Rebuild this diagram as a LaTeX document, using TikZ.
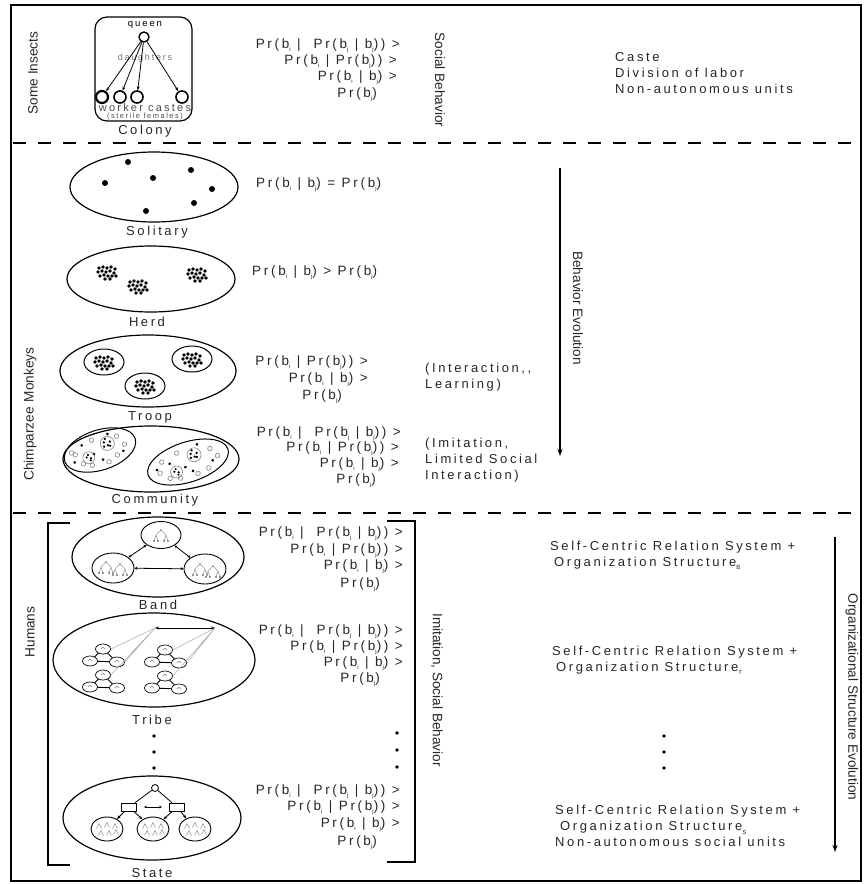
\documentclass[tikz,border=0pt]{standalone}
\usepackage{fontspec}
\setmainfont{Liberation Sans}
\newfontfamily\lsf[LetterSpace=20]{Liberation Sans}
\usetikzlibrary{arrows.meta,shapes.geometric}
\newcommand\bsub[1]{b\raisebox{-0.45ex}{\fontsize{6}{6}\selectfont #1}}
\newcommand\ssub[1]{\raisebox{-0.5ex}{\fontsize{6}{6}\selectfont #1}}
\newcommand\fA{Pr(\bsub{i} |\ \ Pr(\bsub{j} | \bsub{j})) >}
\newcommand\fB{Pr(\bsub{i} | Pr(\bsub{j})) >}
\newcommand\fC{Pr(\bsub{i} | \bsub{j}) >}
\newcommand\fD{Pr(\bsub{j})}
\tikzset{
  clus/.pic={\foreach \a/\b in {-8/-4,-4/-5,0/-4,4/-5,8/-3,-9/0,-5/-1,-1/0,3/-1,7/1,-7/4,-3/3,1/4,5/4,9/4,-2/7,3/7}
     \fill (\a,\b) circle (1.9pt);},
  mtree/.pic={\draw[gray!80, line width=0.5pt] (0,-6) -- (-5,-1) (0,-6) -- (5,-1) (-5,-1) -- (-7,5) (-5,-1) -- (-3,5) (5,-1) -- (3,5) (5,-1) -- (7,5);
     \foreach \a in {-7,-3,3,7} \fill[black!75] (\a,5) circle (0.8pt);
     \fill[gray] (0,-6) circle (0.9pt);},
  mstate/.pic={\foreach \a/\b in {-8/-3,0/-4,8/-3,-6/4,2/4,9/3}
     \draw[gray, line width=0.45pt] (\a-2.5,\b+2.5) -- (\a,\b-2.5) -- (\a+2.5,\b+2.5);},
  mell/.style={ellipse, draw, line width=0.7pt, minimum width=15pt, minimum height=10pt, inner sep=0pt},
  miniband/.pic={
     \node[mell] (-t) at (0,-8) {};
     \node[mell] (-l) at (-13,4) {};
     \node[mell] (-r) at (14,5) {};
     \draw[line width=0.9pt] (-t) -- (-l) (-t) -- (-r) (-l) -- (-r);
     \draw[gray, line width=0.4pt] (-2,-8) -- (0,-10) -- (2,-8) (-15,4) -- (-13,2) -- (-11,4) (12,5) -- (14,3) -- (16,5);}
}
\begin{document}
\begin{tikzpicture}[x=1pt,y=-1pt,
  lbl/.style={font=\lsf\fontsize{13}{16}\selectfont, text=black!85, inner sep=0pt},
  frm/.style={font=\lsf\fontsize{13.5}{16}\selectfont, text=black!85, inner sep=0pt, anchor=east},
  txt/.style={font=\lsf\fontsize{13}{16}\selectfont, text=black!85, inner sep=0pt, align=left, anchor=west},
  rot/.style={font=\fontsize{13.6}{16}\selectfont, text=black!85, inner sep=0pt},
  dashline/.style={line width=1.6pt, dash pattern=on 13pt off 12pt},
  outer/.style={line width=1.2pt},
  inner/.style={line width=1pt},
  arr/.style={line width=1.2pt, -{Stealth[length=7pt,width=5pt]}},
  small/.style={-{Stealth[length=4pt,width=3pt]}, line width=0.8pt},
  sdot/.style={fill=black}
]
\useasboundingbox (0,0) rectangle (866,884);
\draw[line width=1.8pt] (11,5) rectangle (861,881);
\draw[dashline] (13,143) -- (859,143);
\draw[dashline] (13,513) -- (859,513);

% ---------- Some insects ----------
\node[rot, rotate=90] (insects) at (33,73) {Some Insects};
\draw[line width=1.2pt, rounded corners=12pt] (95,17) rectangle (192,121);
\node[font=\lsf\fontsize{9.5}{10}\selectfont, inner sep=0pt] (queenlbl) at (145,25) {queen};
\node[circle, draw, line width=1.4pt, minimum size=10pt, inner sep=0pt] (q) at (144,37) {};
\node[font=\lsf\fontsize{9}{9}\selectfont, text=black!55, inner sep=0pt] (daught) at (145,58) {daughters};
\node[circle, draw, line width=2.2pt, minimum size=12pt, inner sep=0pt] (w1) at (102,97) {};
\node[circle, draw, line width=1.6pt, minimum size=12pt, inner sep=0pt] (w2) at (120,97) {};
\node[circle, draw, line width=1.6pt, minimum size=12pt, inner sep=0pt] (w3) at (137,97) {};
\node[circle, draw, line width=1.6pt, minimum size=12pt, inner sep=0pt] (w4) at (182,97) {};
\foreach \w in {w1,w2,w3,w4} \draw[small] (q) -- (\w);
\node[font=\lsf\fontsize{11}{11}\selectfont, text=black!70, inner sep=0pt] (wc) at (145,108) {worker castes};
\node[font=\lsf\fontsize{7.5}{8}\selectfont, text=black!70, inner sep=0pt] (sf) at (145,117) {(sterile females)};
\node[lbl] (colony) at (145,131) {Colony};

\node[frm] (t1) at (400,46) {\fA};
\node[frm] (t2) at (397,62) {\fB};
\node[frm] (t3) at (397,78) {\fC};
\node[frm] (t4) at (377,95) {\fD};
\node[rot, rotate=-90] (socb) at (440,80) {Social Behavior};
\node[txt] (caste) at (615,73) {Caste\\Division of labor\\Non-autonomous units};

% ---------- Solitary ----------
\draw[outer] (154,187) ellipse (84 and 35);
\foreach \a/\b in {128/162,105/183,153/178,191/170,212/189,194/203,146/211} \fill (\a,\b) circle (3pt);
\node[lbl] (solitary) at (157,232) {Solitary};
\node[frm, anchor=west] (s1) at (256,185) {Pr(\bsub{i} | \bsub{j}) = Pr(\bsub{j})};

% ---------- Herd ----------
\draw[outer] (151,279) ellipse (84 and 33);
\pic at (107,272) {clus};
\pic at (138,286) {clus};
\pic at (197,274) {clus};
\node[lbl] (herd) at (147,322) {Herd};
\node[frm, anchor=west] (h1) at (252,273) {Pr(\bsub{i} | \bsub{j}) > Pr(\bsub{j})};

% ---------- Troop ----------
\node[rot, rotate=90] (monk) at (30,375) {Monkeys};
\draw[outer] (148,371) ellipse (88 and 36);
\draw[inner] (104,362) ellipse (20 and 13);
\draw[inner] (192,359) ellipse (20 and 13);
\draw[inner] (145,386) ellipse (20 and 13);
\pic at (104,362) {clus};
\pic at (192,359) {clus};
\pic at (145,386) {clus};
\node[lbl] (troop) at (150,417) {Troop};
\node[frm] (tr1) at (368,363) {\fB};
\node[frm] (tr2) at (368,380) {\fC};
\node[frm] (tr3) at (342,397) {\fD};
\node[txt] (inter) at (425,377) {(Interaction,,\\Learning)};

% ---------- Community ----------
\node[rot, rotate=90] (chimp) at (30,444) {Chimparzee};
\draw[outer] (151,459) ellipse (88 and 33);
\begin{scope}[shift={(100,450)}, rotate=18]
  \draw[inner] (0,0) ellipse (37 and 20);
  \foreach \a/\b in {-25/-3,-20/8,-12/12,20/-8,25/2,15/10,-5/-12,5/14,-28/-6} \draw[gray, line width=0.6pt] (\a,\b) circle (2.3pt);
  \foreach \a/\b in {-28/4,-16/-10,0/10,22/8,-7/2,12/-13} \fill (\a,\b) circle (1.5pt);
  \draw[gray, line width=0.6pt] (9,-4) circle (7pt);
  \foreach \a/\b in {6/-6,9/-2,12/-5,8/-9,11/-1,5/-2} \fill (\a,\b) circle (1.3pt);
  \draw[gray, line width=0.6pt] (-13,4) circle (6pt);
  \foreach \a/\b in {-15/3,-11/5,-13/1,-12/7} \fill (\a,\b) circle (1.2pt);
\end{scope}
\begin{scope}[shift={(188,462)}, rotate=18]
  \draw[inner] (0,0) ellipse (42 and 20);
  \foreach \a/\b in {-30/2,-22/10,-12/13,25/-6,30/3,18/12,-8/-12,6/14,-25/-8} \draw[gray, line width=0.6pt] (\a,\b) circle (2.3pt);
  \foreach \a/\b in {-32/-2,-18/-4,2/10,24/6,-4/4,14/-14} \fill (\a,\b) circle (1.5pt);
  \draw[gray, line width=0.6pt] (8,-5) circle (7pt);
  \foreach \a/\b in {5/-7,8/-3,11/-6,7/-10,10/-2,4/-3} \fill (\a,\b) circle (1.3pt);
  \draw[gray, line width=0.6pt] (-14,6) circle (6pt);
  \foreach \a/\b in {-16/5,-12/7,-14/3,-13/9} \fill (\a,\b) circle (1.2pt);
\end{scope}
\node[lbl] (community) at (155,500) {Community};
\node[frm] (c1) at (401,434) {\fA};
\node[frm] (c2) at (399,449) {\fB};
\node[frm] (c3) at (399,465) {\fC};
\node[frm] (c4) at (376,481) {\fD};
\node[txt] (imit) at (425,460) {(Imitation,\\Limited Social\\Interaction)};

\coordinate (bevs) at (560,168);
\coordinate (beve) at (560,456);
\draw[arr] (bevs) -- (beve);
\node[rot, rotate=-90] (bev) at (578,308) {Behavior Evolution};

% ---------- Humans ----------
\node[rot, rotate=90] (hum) at (30,632) {Humans};
\draw[line width=1.3pt] (70,523) -- (48,523) -- (48,865) -- (70,865);
\draw[line width=1.3pt] (387,521) -- (415,521) -- (415,862) -- (387,862);
\node[rot, rotate=-90] (imsb) at (437,690) {Imitation, Social Behavior};

% Band
\draw[outer] (158,557) ellipse (86 and 40);
\node[ellipse, draw, line width=0.9pt, minimum width=40pt, minimum height=27pt, inner sep=0pt] (bt) at (161,535) {};
\node[ellipse, draw, line width=0.9pt, minimum width=42pt, minimum height=30pt, inner sep=0pt] (bl) at (113,568) {};
\node[ellipse, draw, line width=0.9pt, minimum width=42pt, minimum height=30pt, inner sep=0pt] (br) at (205,569) {};
\draw[small, {Stealth[length=3pt,width=3pt]}-{Stealth[length=3pt,width=3pt]}] (bt) -- (bl);
\draw[small, {Stealth[length=3pt,width=3pt]}-{Stealth[length=3pt,width=3pt]}] (bt) -- (br);
\draw[small, {Stealth[length=3pt,width=3pt]}-{Stealth[length=3pt,width=3pt]}] (bl) -- (br);
\pic at (161,536) {mtree};
\pic at (106,568) {mtree};
\pic at (120,570) {mtree};
\pic at (200,570) {mtree};
\pic at (213,572) {mtree};
\node[lbl] (band) at (158,605) {Band};
\node[frm] (b1) at (403,534) {\fA};
\node[frm] (b2) at (403,551) {\fB};
\node[frm] (b3) at (403,567) {\fC};
\node[frm] (b4) at (380,585) {\fD};

% Tribe
\draw[outer] (154,660) ellipse (101 and 47);
\pic (mb1) at (103,657) {miniband};
\pic (mb2) at (165,658) {miniband};
\pic (mb3) at (103,683) {miniband};
\pic (mb4) at (165,684) {miniband};
\coordinate (ta1) at (155,628);
\coordinate (ta2) at (215,628);
\draw[line width=0.9pt, {Stealth[length=4pt,width=3pt]}-{Stealth[length=4pt,width=3pt]}] (ta1) -- (ta2);
\draw[gray!70, line width=0.5pt] (ta1) -- (mb1-t.east) (ta1) -- (mb1-r.east) (ta1) -- (mb3-t.east)
   (ta2) -- (mb2-t.east) (ta2) -- (mb2-r.east) (ta2) -- (mb4-t.east);
\node[lbl] (tribe) at (152,720) {Tribe};
\node[frm] (r1) at (403,632) {\fA};
\node[frm] (r2) at (403,648) {\fB};
\node[frm] (r3) at (403,664) {\fC};
\node[frm] (r4) at (380,680) {\fD};
\foreach \y in {736,752,768} \fill (154,\y) circle (1.8pt);
\foreach \y in {733,750,767} \fill (397,\y) circle (1.8pt);

% State
\draw[outer] (152,818) ellipse (89 and 42);
\node[circle, draw, line width=0.8pt, minimum size=7pt, inner sep=0pt] (sc) at (155,788) {};
\node[rectangle, draw, line width=0.8pt, minimum width=15pt, minimum height=8pt, inner sep=0pt] (sl) at (129,807) {};
\node[rectangle, draw, line width=0.8pt, minimum width=15pt, minimum height=8pt, inner sep=0pt] (sr) at (177,807) {};
\node[ellipse, draw, line width=0.9pt, minimum width=32pt, minimum height=24pt, inner sep=0pt] (e1) at (107,829) {};
\node[ellipse, draw, line width=0.9pt, minimum width=32pt, minimum height=24pt, inner sep=0pt] (e2) at (153,829) {};
\node[ellipse, draw, line width=0.9pt, minimum width=32pt, minimum height=24pt, inner sep=0pt] (e3) at (195,829) {};
\pic at (107,829) {mstate};
\pic at (153,829) {mstate};
\pic at (195,829) {mstate};
\draw[line width=0.8pt] (sc) -- (sl) (sc) -- (sr);
\draw[small] (sl) -- (e1);
\draw[small] (sl) -- (e2);
\draw[small] (sr) -- (e2);
\draw[small] (sr) -- (e3);
\draw[line width=0.6pt, {Stealth[length=3pt,width=2.5pt]}-{Stealth[length=3pt,width=2.5pt]}, shorten <=7pt, shorten >=7pt] (sl) -- (sr);
\node[lbl] (state) at (152,873) {State};
\node[frm] (st1) at (400,792) {\fA};
\node[frm] (st2) at (400,808) {\fB};
\node[frm] (st3) at (400,825) {\fC};
\node[frm] (st4) at (377,843) {\fD};

% right column
\node[txt] (sc1) at (550,555) {Self-Centric Relation System +\\\hspace*{4pt}Organization Structure\ssub{B}};
\node[txt] (sc2) at (552,660) {Self-Centric Relation System +\\\hspace*{4pt}Organization Structure\ssub{T}};
\foreach \y in {736,752,768} \fill (664,\y) circle (1.8pt);
\node[txt] (sc3) at (555,826) {Self-Centric Relation System +\\\hspace*{5pt}Organization Structure\ssub{S}\\Non-autonomous social units};
\coordinate (osvs) at (835,537);
\coordinate (osve) at (835,852);
\draw[arr] (osvs) -- (osve);
\node[rot, rotate=-90] (osev) at (852,697) {Organizational Structure Evolution};
\end{tikzpicture}
\end{document}
